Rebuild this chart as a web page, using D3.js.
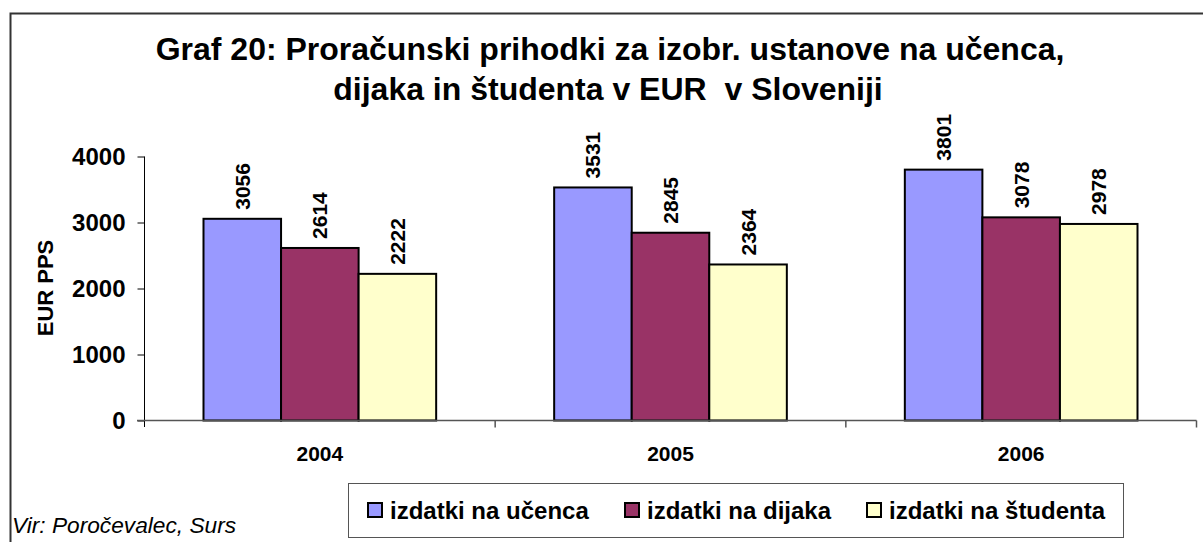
<!DOCTYPE html>
<html>
<head>
<meta charset="utf-8">
<script src="https://cdn.jsdelivr.net/npm/d3@7"></script>
<style>
  body { margin: 0; background: #fff; }
  svg { font-family: "Liberation Sans", Arial, sans-serif; }
</style>
</head>
<body>
<div id="chart"></div>
<script>
const width = 1203;
const height = 542;

const years = ["2004", "2005", "2006"];
const seriesNames = ["izdatki na učenca", "izdatki na dijaka", "izdatki na študenta"];
const seriesColors = ["#9999FF", "#993366", "#FFFFCC"];
const ucenca = [3056, 3531, 3801];
const dijaka = [2614, 2845, 3078];
const studenta = [2222, 2364, 2978];
const yTicks = [0, 1000, 2000, 3000, 4000];

const series = [ucenca, dijaka, studenta];

const svg = d3.select("#chart")
    .append("svg")
    .attr("width", width)
    .attr("height", height);

// outer frame
svg.append("rect")
    .attr("x", 10.5)
    .attr("y", 13.5)
    .attr("width", width)
    .attr("height", height)
    .attr("fill", "none")
    .attr("stroke", "#333")
    .attr("stroke-width", 2);

// title
const title = svg.append("text")
    .attr("text-anchor", "middle")
    .attr("font-size", 32)
    .attr("font-weight", "bold");
title.append("tspan").attr("x", 610).attr("y", 60)
    .text("Graf 20: Proračunski prihodki za izobr. ustanove na učenca,");
title.append("tspan").attr("x", 608).attr("y", 100)
    .text("dijaka in študenta v EUR  v Sloveniji")
    .style("white-space", "pre");

const x0 = d3.scaleBand()
    .domain(years)
    .range([144.5, 1196.5])
    .paddingInner(0)
    .paddingOuter(0);

const x1 = d3.scaleBand()
    .domain(d3.range(series.length))
    .range([59, x0.bandwidth() - 59]);

const y = d3.scaleLinear()
    .domain([0, 4000])
    .range([420.5, 156.5]);

// y axis
const yAxis = svg.append("g")
    .attr("transform", "translate(144.5,0)")
    .call(d3.axisLeft(y).tickValues(yTicks).tickFormat(d3.format("d")).tickSize(7).tickPadding(12));
yAxis.select(".domain").attr("d", "M0," + y(4000) + "V427");
yAxis.selectAll("text")
    .attr("font-size", 24)
    .attr("font-weight", "bold")
    .attr("font-family", "Liberation Sans, Arial, sans-serif")
    .attr("fill", "#000");

svg.append("text")
    .attr("transform", "translate(45,288) rotate(-90)")
    .attr("text-anchor", "middle")
    .attr("dy", "0.35em")
    .attr("font-size", 22)
    .attr("font-weight", "bold")
    .text("EUR PPS");

// bars
const groups = svg.selectAll("g.year")
    .data(years)
    .join("g")
    .attr("class", "year")
    .attr("transform", d => "translate(" + x0(d) + ",0)");

groups.selectAll("rect")
    .data((d, i) => series.map((s, k) => ({ k: k, v: s[i] })))
    .join("rect")
    .attr("x", d => x1(d.k))
    .attr("y", d => y(d.v))
    .attr("width", x1.bandwidth())
    .attr("height", d => y(0) - y(d.v))
    .attr("fill", d => seriesColors[d.k])
    .attr("stroke", "#000")
    .attr("stroke-width", 2);

groups.selectAll("text.val")
    .data((d, i) => series.map((s, k) => ({ k: k, v: s[i] })))
    .join("text")
    .attr("class", "val")
    .attr("transform", d => "translate(" + (x1(d.k) + x1.bandwidth() / 2 + 7.5) + "," + (y(d.v) - 9) + ") rotate(-90)")
    .attr("font-size", 21)
    .attr("font-weight", "bold")
    .text(d => d.v);

// x axis
const xAxis = svg.append("g")
    .attr("transform", "translate(0,420.5)");
xAxis.append("path")
    .attr("d", "M137,0H1196.5")
    .attr("stroke", "#555")
    .attr("stroke-width", 1.5);
xAxis.selectAll("line")
    .data(years.slice(1).concat(["end"]))
    .join("line")
    .attr("x1", (d, i) => i < 2 ? x0(d) : x0.range()[1])
    .attr("x2", (d, i) => i < 2 ? x0(d) : x0.range()[1])
    .attr("y1", 0)
    .attr("y2", 7)
    .attr("stroke", "#555")
    .attr("stroke-width", 1.5);
xAxis.selectAll("text")
    .data(years)
    .join("text")
    .attr("x", d => x0(d) + x0.bandwidth() / 2)
    .attr("y", 40)
    .attr("text-anchor", "middle")
    .attr("font-size", 21)
    .attr("font-weight", "bold")
    .text(d => d);

// legend
svg.append("rect")
    .attr("x", 348.5)
    .attr("y", 483.5)
    .attr("width", 775)
    .attr("height", 54)
    .attr("fill", "#fff")
    .attr("stroke", "#555")
    .attr("stroke-width", 1);

const legendX = [368, 625, 867];
const legend = svg.selectAll("g.leg")
    .data(seriesNames)
    .join("g")
    .attr("class", "leg")
    .attr("transform", (d, i) => "translate(" + legendX[i] + ",503)");
legend.append("rect")
    .attr("width", 14)
    .attr("height", 14)
    .attr("fill", (d, i) => seriesColors[i])
    .attr("stroke", "#000")
    .attr("stroke-width", 2);
legend.append("text")
    .attr("x", 22)
    .attr("y", 16)
    .attr("font-size", 24)
    .attr("font-weight", "bold")
    .text(d => d);

// source
svg.append("text")
    .attr("x", 12)
    .attr("y", 533)
    .attr("font-size", 22.7)
    .attr("font-style", "italic")
    .text("Vir: Poročevalec, Surs");
</script>
</body>
</html>
